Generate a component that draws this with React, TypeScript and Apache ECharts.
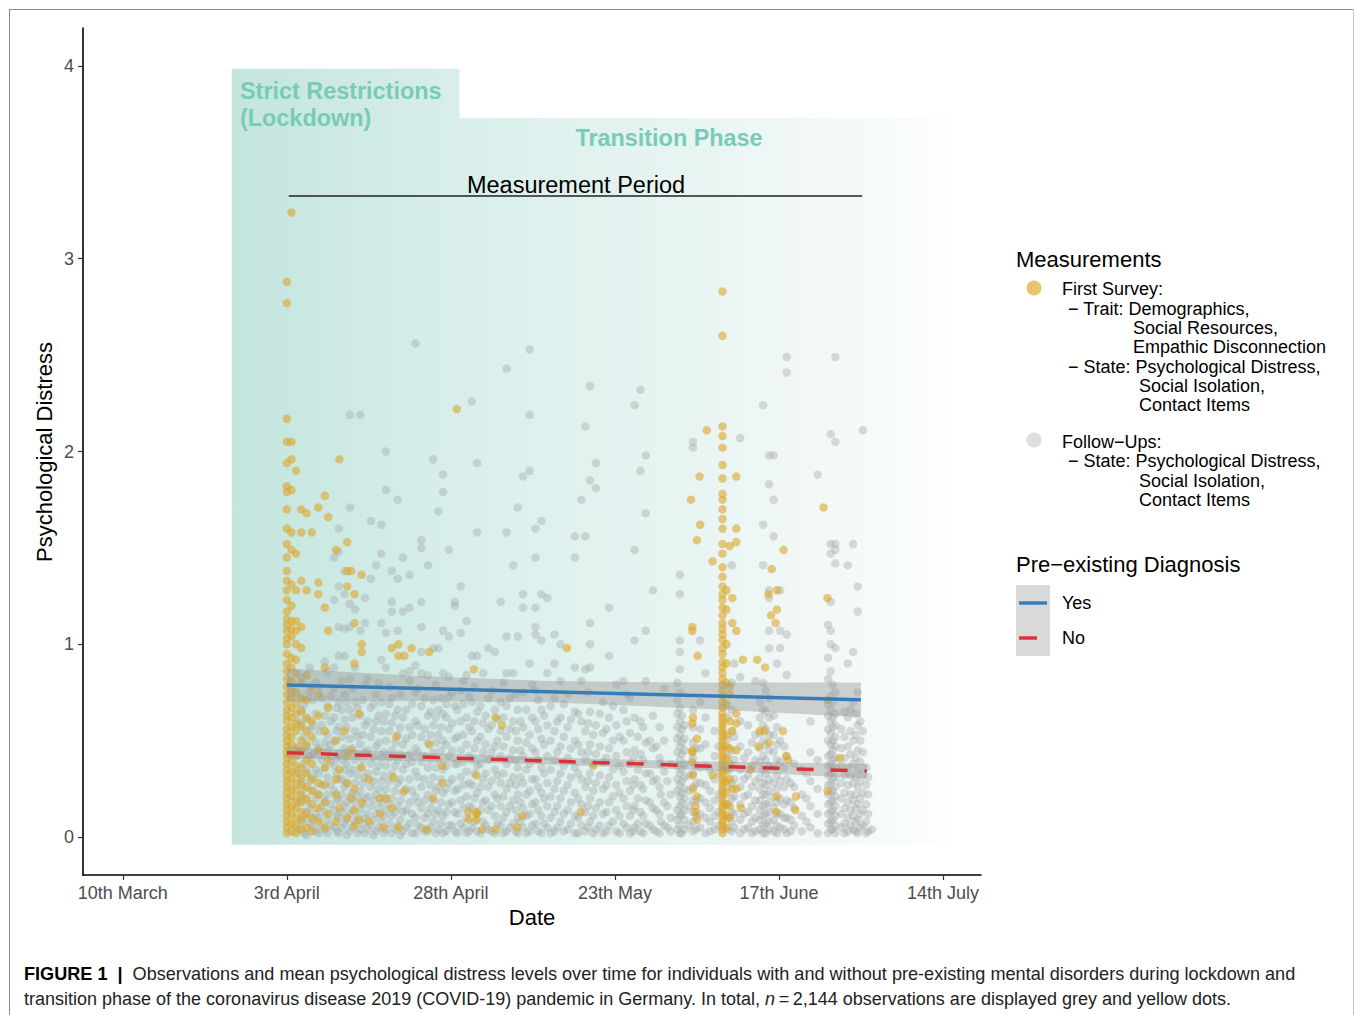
import React, { useEffect, useRef } from "react";
import * as echarts from "echarts";

const FONT = "'Liberation Sans', Arial, Helvetica, sans-serif";

// x axis: days counted from 10th March (tick every 25 days, labelled as in the figure)
const xTickValues = [0, 25, 50, 75, 100, 125];
const xTickLabels = ["10th March", "3rd April", "28th April", "23th May", "17th June", "14th July"];
const yTickValues = [0, 1, 2, 3, 4];
const yTickLabels = ["0", "1", "2", "3", "4"];

// First-survey observations (yellow): [day, distress values observed that day]
const yellowApril: [number, number[]][] = [
  [25.0, [0.02,0.05,0.08,0.11,0.14,0.17,0.2,0.23,0.26,0.29,0.32,0.35,0.38,0.41,0.44,0.47,0.5,0.53,0.56,0.6,0.63,0.66,0.7,0.74,0.78,0.82,0.86,0.9,0.95,1.0,1.03,1.07,1.1,1.13,1.17,1.23,1.28,1.33,1.38,1.45,1.52,1.6,1.7,1.79,1.82,1.94,2.05,2.17,2.77,2.88]],
  [25.7, [0.03,0.07,0.12,0.16,0.21,0.25,0.3,0.34,0.39,0.43,0.48,0.52,0.57,0.62,0.67,0.72,0.76,0.81,0.88,0.93,1.04,1.08,1.12,1.2,1.31,1.49,1.58,1.8,1.96,2.05,3.24]],
  [26.4, [0.02,0.06,0.1,0.15,0.19,0.24,0.28,0.33,0.37,0.42,0.46,0.55,0.59,0.64,0.69,0.75,0.85,0.92,1.0,1.07,1.12,1.28,1.47,1.9]],
  [27.2, [0.04,0.09,0.13,0.18,0.22,0.27,0.31,0.36,0.45,0.5,0.58,0.65,0.72,0.8,0.98,1.09,1.33,1.58,1.7]],
  [28.0, [0.05,0.12,0.2,0.26,0.33,0.4,0.48,0.55,0.62,0.71,0.84,1.28,1.68]],
  [28.8, [0.03,0.1,0.17,0.24,0.3,0.38,0.52,0.6,0.78,1.58]],
  [29.8, [0.08,0.15,0.22,0.28,0.45,0.63,0.74,1.26,1.32,1.71]],
  [30.8, [0.05,0.18,0.27,0.36,0.55,0.88,1.19,1.77]],
  [31.3, [0.12,0.4,0.67,1.07,1.66]],
  [32.5, [0.08,0.22,0.3,0.5,1.49]],
  [33.0, [0.15,0.35,1.96]],
  [33.8, [0.55]],
  [34.2, [0.1,0.28,0.42,1.3,1.38,1.53]],
  [34.8, [0.2,0.45,1.38]],
  [35.3, [0.06,0.14,0.25,0.9,1.11,1.26]],
  [36.0, [0.09,0.64]],
  [36.4, [0.18,0.36,0.96,1.0,1.36]],
  [37.5, [0.08,0.3]],
  [39.2, [0.12,0.2]],
  [39.7, [0.05]],
  [40.2, [0.2]],
  [41.0, [0.15,0.98]],
  [41.2, [0.31]],
  [41.7, [0.52]],
  [42.0, [0.05,0.94,1.0]],
  [42.9, [0.24,0.94]],
  [44.0, [0.98]],
  [46.3, [0.04]],
  [46.7, [0.48,0.96]],
  [47.3, [0.2]],
  [48.7, [0.28,0.37]],
  [50.9, [2.22]],
  [52.7, [0.09,0.13]],
  [53.5, [0.87]],
  [53.9, [0.09,0.12,0.13,0.32]],
  [54.8, [0.04]],
  [56.8, [0.04,0.62]],
  [57.8, [0.58]],
  [60.1, [0.05]],
  [60.9, [0.11]],
  [67.7, [0.98]],
  [69.8, [0.13]],
  [71.7, [0.37]],
];

const yellowJune: [number, number[]][] = [
  [86.6, [1.75]],
  [86.8, [0.39,0.44,0.45,0.59,1.07,1.09]],
  [86.9, [0.25,0.32,0.62]],
  [87.3, [0.13,0.16]],
  [87.5, [0.09,0.21,0.51,1.54]],
  [87.6, [0.94]],
  [87.9, [1.87]],
  [88.0, [1.62]],
  [89.0, [2.11]],
  [89.9, [0.32,1.43]],
  [91.4, [0.02,0.04,0.06,0.08,0.1,0.12,0.14,0.16,0.18,0.2,0.22,0.24,0.26,0.28,0.3,0.32,0.34,0.36,0.38,0.4,0.42,0.44,0.46,0.48,0.5,0.52,0.54,0.56,0.58,0.6,0.62,0.64,0.67,0.7,0.73,0.76,0.79,0.82,0.85,0.88,0.91,0.95,0.98,1.02,1.05,1.08,1.11,1.15,1.19,1.23,1.26,1.3,1.35,1.4,1.47,1.52,1.6,1.65,1.7,1.75,1.78,1.86,1.93,2.02,2.08,2.13,2.6,2.83]],
  [92.0, [0.05,0.11,0.17,0.23,0.29,0.35,0.41,0.47,0.53,0.69,0.8,0.9,1.0,1.18,1.28]],
  [92.5, [0.1,0.16,0.3,0.38,0.46,0.6,0.74,0.78,1.51]],
  [92.9, [0.25,0.55,1.11,1.24]],
  [93.5, [0.25,0.45,0.59,0.64,1.07,1.53,1.6,1.87]],
  [94.2, [0.15]],
  [94.5, [0.92]],
  [95.7, [0.35]],
  [96.7, [0.92]],
  [96.9, [0.47]],
  [97.1, [0.55]],
  [97.8, [0.55]],
  [97.9, [0.88]],
  [98.4, [1.26]],
  [98.5, [0.49]],
  [98.8, [1.15]],
  [98.9, [1.39]],
  [99.5, [1.11]],
  [99.6, [0.13]],
  [99.7, [0.21,1.18,1.28]],
  [100.6, [0.55]],
  [100.7, [1.49]],
  [101.1, [0.42]],
  [101.4, [0.4]],
  [102.5, [0.14]],
  [102.6, [0.21]],
  [106.8, [1.71]],
  [107.4, [0.24,0.71,1.24]],
  [109.3, [0.41]],
];

// Follow-up observations (grey)
const greyApril: [number, number[]][] = [
  [26.8, [0.04,0.18,0.33,0.47,0.6]],
  [27.6, [0.02,0.1,0.25,0.38,0.52,0.69]],
  [28.5, [0.07,0.15,0.29,0.42,0.56,0.75,0.88]],
  [29.4, [0.03,0.12,0.2,0.35,0.49,0.64,0.8]],
  [30.3, [0.06,0.16,0.27,0.4,0.58,0.72]],
  [31.2, [0.02,0.09,0.22,0.31,0.45,0.53,0.68,0.86]],
  [32.2, [0.05,0.14,0.24,0.37,0.5,0.62,0.77,0.88,1.23,1.45]],
  [32.9, [0.02,0.1,0.19,0.3,0.43,0.57,0.7,0.94,1.09,1.3,1.48,1.6]],
  [33.8, [0.07,0.16,0.26,0.35,0.46,0.61,0.74,0.94,1.08,1.26,1.38]],
  [34.6, [0.03,0.12,0.21,0.33,0.51,0.66,0.82,1.09,1.21,1.71,2.19]],
  [35.4, [0.08,0.18,0.28,0.4,0.55,0.7,0.88,1.18]],
  [36.2, [0.04,0.14,0.24,0.36,0.48,0.63,1.07,2.19]],
  [36.9, [0.02,0.1,0.2,0.31,0.44,0.58,0.79,1.11,1.24]],
  [37.8, [0.06,0.16,0.26,0.38,0.52,0.67,1.34,1.64]],
  [38.6, [0.03,0.12,0.22,0.34,0.47,0.6,0.74,1.41]],
  [39.4, [0.08,0.18,0.29,0.41,0.55,0.7,0.92,1.11,1.47,1.62]],
  [40.1, [0.04,0.14,0.25,0.37,0.5,0.64,0.88,1.06,1.8,2.0]],
  [41.0, [0.02,0.11,0.2,0.33,0.45,0.59,0.72,1.17,1.22,1.38]],
  [41.9, [0.06,0.16,0.28,0.4,0.53,0.66,1.07,1.34,1.75]],
  [42.7, [0.03,0.13,0.23,0.35,0.48,0.62,0.85,1.17,1.45]],
  [43.7, [0.07,0.18,0.3,0.43,0.57,0.81,0.86,1.19,1.36]],
  [44.6, [0.02,0.1,0.21,0.34,0.46,0.6,0.75,0.89,2.56]],
  [45.5, [0.05,0.15,0.26,0.39,0.52,0.68,0.85,0.96,1.09,1.22,1.5,1.54]],
  [46.5, [0.03,0.12,0.22,0.36,0.49,0.63,0.84,1.41]],
  [47.3, [0.08,0.19,0.31,0.44,0.58,0.71,0.98,1.96]],
  [48.1, [0.04,0.14,0.26,0.4,0.53,0.66,0.98,1.69]],
  [48.8, [0.02,0.11,0.23,0.35,0.5,0.64,0.85,1.07,1.79,1.88]],
  [49.7, [0.06,0.17,0.28,0.42,0.56,0.73,0.83,1.04,1.49]],
  [50.6, [0.03,0.13,0.24,0.38,0.51,0.68,1.2,1.22]],
];

const greyAprilB: [number, number[]][] = [
  [27.2, [0.08,0.21,0.29,0.44,0.57,0.66,0.83]],
  [28.0, [0.01,0.13,0.19,0.34,0.47,0.61]],
  [29.0, [0.05,0.09,0.24,0.31,0.43,0.58,0.71]],
  [29.9, [0.02,0.1,0.22,0.33,0.46,0.55,0.78]],
  [30.8, [0.04,0.13,0.19,0.36,0.49,0.63,0.91]],
  [31.7, [0.06,0.17,0.27,0.39,0.48,0.6,0.73]],
  [32.6, [0.03,0.11,0.2,0.33,0.41,0.55,0.67]],
  [33.4, [0.05,0.13,0.22,0.3,0.4,0.52,0.66,0.81]],
  [34.1, [0.01,0.09,0.18,0.28,0.38,0.44,0.57,0.7]],
  [35.0, [0.05,0.14,0.23,0.35,0.46,0.62,0.77]],
  [35.8, [0.02,0.1,0.21,0.32,0.43,0.52,0.67]],
  [36.6, [0.07,0.17,0.28,0.4,0.53,0.71]],
  [37.3, [0.04,0.12,0.21,0.33,0.45,0.6,0.82]],
  [38.2, [0.01,0.09,0.19,0.29,0.41,0.56,0.69]],
  [39.0, [0.05,0.15,0.25,0.37,0.49,0.63,0.8]],
  [39.8, [0.02,0.11,0.21,0.32,0.44,0.6]],
  [40.6, [0.07,0.17,0.29,0.41,0.55,0.69,0.78]],
  [41.5, [0.04,0.13,0.24,0.37,0.49,0.63]],
  [42.3, [0.01,0.09,0.19,0.3,0.43,0.57,0.74]],
  [43.2, [0.05,0.14,0.25,0.38,0.51,0.66]],
  [44.1, [0.02,0.12,0.24,0.39,0.53,0.69]],
  [45.0, [0.06,0.18,0.31,0.44,0.58,0.77]],
  [46.0, [0.03,0.1,0.19,0.3,0.42,0.56,0.72]],
  [46.9, [0.05,0.15,0.27,0.4,0.53,0.65]],
  [47.7, [0.02,0.12,0.24,0.36,0.49,0.62,0.79]],
  [48.5, [0.07,0.18,0.3,0.45,0.57,0.72]],
  [49.3, [0.03,0.13,0.25,0.37,0.48,0.62,0.69]],
  [50.2, [0.06,0.18,0.3,0.45,0.59,0.75]],
];

const greyMay: [number, number[]][] = [
  [51.5, [0.07,0.19,0.31,0.45,0.6,0.76,1.06,1.3]],
  [52.4, [0.02,0.1,0.21,0.34,0.48,0.62,0.84,1.12]],
  [53.2, [0.05,0.15,0.27,0.4,0.55,0.7,0.94,2.26]],
  [54.0, [0.03,0.12,0.23,0.37,0.5,0.65,0.94,1.58,1.94]],
  [54.9, [0.08,0.18,0.3,0.44,0.59,0.85]],
  [55.7, [0.04,0.14,0.26,0.4,0.56,0.72,0.98]],
  [56.7, [0.02,0.11,0.22,0.35,0.47,0.66,0.96]],
  [57.6, [0.06,0.16,0.28,0.42,0.55,0.7,1.22]],
  [58.5, [0.03,0.13,0.25,0.38,0.52,0.68,0.85,1.04,1.58,2.43]],
  [59.5, [0.07,0.19,0.31,0.45,0.6,0.85,1.41]],
  [60.2, [0.02,0.1,0.22,0.36,0.5,0.66,1.04,1.71]],
  [61.0, [0.05,0.15,0.28,0.42,0.57,0.75,1.19,1.26,1.87]],
  [62.0, [0.03,0.12,0.24,0.38,0.53,0.9,1.9,2.19,2.53]],
  [62.9, [0.07,0.18,0.3,0.44,0.6,0.76,1.05,1.09,1.19,1.45,1.6]],
  [63.8, [0.02,0.11,0.23,0.36,0.51,0.66,1.02,1.26,1.64]],
  [64.7, [0.05,0.16,0.28,0.42,0.58,0.85,1.24]],
  [65.8, [0.03,0.13,0.25,0.4,0.55,0.72,0.9,1.05]],
  [66.7, [0.08,0.2,0.33,0.47,0.62,0.81,1.0]],
  [67.8, [0.04,0.14,0.27,0.41,0.57,0.74]],
  [68.9, [0.02,0.11,0.23,0.36,0.5,0.65,0.88,1.45,1.56]],
  [69.9, [0.06,0.17,0.3,0.44,0.6,0.81,1.75]],
  [70.5, [0.03,0.13,0.26,0.4,0.55,0.87,1.56,2.13]],
  [71.2, [0.08,0.2,0.33,0.48,0.65,0.88,1.0,1.11,1.85,2.34]],
  [72.1, [0.04,0.15,0.28,0.43,0.58,1.81,1.94]],
  [73.2, [0.02,0.12,0.25,0.39,0.54,0.7]],
  [74.1, [0.06,0.18,0.31,0.46,0.62,0.94,1.19]],
  [75.2, [0.03,0.14,0.27,0.42,0.58,0.79]],
  [76.3, [0.07,0.2,0.34,0.5,0.66,0.81]],
  [77.3, [0.02,0.11,0.24,0.38,0.54,0.72]],
  [78.0, [0.05,0.16,0.3,0.45,0.62,1.02,1.49,2.24]],
  [78.9, [0.03,0.13,0.27,0.43,0.6,1.9,2.32]],
  [79.7, [0.07,0.19,0.33,0.49,0.81,1.07,1.68,1.98]],
  [80.8, [0.04,0.15,0.29,0.46,0.63,1.28]],
  [81.8, [0.02,0.12,0.26,0.41,0.57]],
  [82.5, [0.06,0.18,0.34,0.5,0.77]],
  [83.5, [0.03,0.1,0.22,0.38]],
];

const greyMayB: [number, number[]][] = [
  [51.0, [0.02,0.12,0.25,0.38,0.52,0.66]],
  [51.9, [0.05,0.15,0.27,0.39,0.53,0.69,0.81]],
  [52.8, [0.03,0.16,0.28,0.42,0.57,0.73]],
  [53.6, [0.08,0.2,0.33,0.46,0.6,0.78]],
  [54.5, [0.02,0.14,0.26,0.38,0.52,0.68]],
  [55.3, [0.06,0.19,0.33,0.48,0.63]],
  [56.2, [0.03,0.16,0.29,0.44,0.58,0.76]],
  [57.1, [0.07,0.2,0.32,0.5,0.61]],
  [58.0, [0.02,0.1,0.21,0.33,0.47,0.62,0.8]],
  [59.0, [0.05,0.16,0.28,0.41,0.56,0.72]],
  [59.9, [0.03,0.14,0.27,0.4,0.55,0.74]],
  [60.6, [0.08,0.18,0.31,0.45,0.6]],
  [61.5, [0.02,0.11,0.22,0.35,0.49,0.66]],
  [62.4, [0.06,0.17,0.3,0.46,0.62,0.79]],
  [63.3, [0.03,0.14,0.26,0.4,0.56,0.71]],
  [64.2, [0.07,0.2,0.33,0.48,0.63]],
  [65.2, [0.02,0.1,0.21,0.35,0.5,0.68]],
  [66.2, [0.05,0.16,0.29,0.44,0.6]],
  [67.2, [0.03,0.12,0.24,0.37,0.52,0.69]],
  [68.3, [0.07,0.18,0.31,0.46,0.61]],
  [69.4, [0.02,0.1,0.2,0.33,0.48,0.64]],
  [70.9, [0.05,0.16,0.29,0.44,0.59,0.75]],
  [71.7, [0.02,0.11,0.24,0.38,0.53]],
  [72.7, [0.06,0.18,0.32,0.47,0.64]],
  [73.7, [0.03,0.13,0.27,0.41,0.56]],
  [74.7, [0.08,0.21,0.35,0.5,0.68]],
  [75.7, [0.02,0.11,0.23,0.37,0.52]],
  [76.8, [0.05,0.16,0.29,0.44,0.6,0.74]],
  [77.8, [0.03,0.14,0.27,0.41]],
  [78.5, [0.07,0.2,0.35,0.52]],
  [79.3, [0.02,0.11,0.25,0.4,0.57]],
  [80.3, [0.06,0.18,0.33,0.5]],
  [81.3, [0.03,0.14,0.3,0.47]],
  [82.0, [0.08,0.22,0.38]],
  [83.0, [0.05,0.16,0.29]],
];

const greyJune: [number, number[]][] = [
  [84.9, [0.02,0.06,0.11,0.16,0.21,0.27,0.33,0.4,0.47,0.53,0.6,0.67,0.75,0.87,0.96,1.02,1.26,1.36]],
  [85.6, [0.04,0.09,0.14,0.2,0.25,0.31,0.38,0.45,0.51,0.58]],
  [86.9, [0.03,0.08,0.13,0.19,0.26,0.33,0.41,0.49,0.57,0.66,2.02,2.05]],
  [88.0, [0.05,0.12,0.2,0.28,0.36,0.46,0.56,0.7,1.02]],
  [88.8, [0.02,0.1,0.18,0.27,0.37,0.48,0.62,0.85]],
  [90.2, [0.04,0.11,0.19,0.3,0.42,0.55]],
  [92.8, [0.03,0.08,0.13,0.2,0.28,0.36,0.45,0.55,0.66,0.8,1.41]],
  [93.2, [0.05,0.12,0.21,0.3,0.4,0.52,0.9]],
  [94.1, [0.02,0.09,0.17,0.26,0.35,0.47,0.6,0.83,2.07]],
  [95.3, [0.05,0.13,0.22,0.32,0.44,0.58]],
  [96.4, [0.03,0.1,0.19,0.29,0.4,0.53,0.81]],
  [97.6, [0.02,0.06,0.11,0.16,0.22,0.28,0.35,0.42,0.5,0.58,0.66,0.8,1.41,1.62,2.24]],
  [98.5, [0.04,0.08,0.13,0.18,0.24,0.3,0.37,0.45,0.53,0.62,0.72,0.98,1.07,1.24,1.28,1.83,1.98]],
  [99.2, [0.03,0.09,0.15,0.21,0.28,0.36,0.44,0.53,0.63,1.56,1.75,1.98]],
  [100.2, [0.05,0.12,0.2,0.29,0.39,0.5,0.98,1.07,1.28]],
  [101.2, [0.02,0.1,0.19,0.3,0.42,0.84,1.05,2.41,2.49]],
  [102.3, [0.06,0.15,0.26,0.38]],
  [103.5, [0.03,0.11,0.22,0.35]],
  [104.8, [0.05,0.16,0.29,0.44,0.6]],
  [105.9, [0.02,0.12,0.25,0.4,1.88]],
  [107.9, [0.04,0.08,0.13,0.18,0.23,0.28,0.33,0.38,0.43,0.48,0.54,0.6,0.66,0.73,0.86,1.0,1.07,1.22,1.47,1.52,2.09]],
  [108.6, [0.02,0.06,0.11,0.16,0.21,0.26,0.31,0.36,0.41,0.47,0.52,0.58,0.64,0.75,0.98,1.42,1.49,1.52,2.05,2.49]],
  [109.5, [0.05,0.12,0.2,0.28,0.37,0.46,0.56]],
  [110.5, [0.03,0.1,0.18,0.27,0.36,0.47,0.62,0.9,1.41]],
  [111.3, [0.04,0.11,0.19,0.28,0.38,0.5,0.7,0.96,1.52]],
  [112.0, [0.02,0.09,0.17,0.26,0.35,0.45,0.58,0.75,1.17,1.3]],
  [112.8, [0.06,0.14,0.23,0.33,0.44,0.55,2.11]],
  [113.6, [0.03,0.12,0.22,0.31]],
  [114.2, [0.04]],
];

const greyJuneB: [number, number[]][] = [
  [84.5, [0.04,0.09,0.14,0.24,0.3,0.37,0.44,0.51,0.57,0.64,0.71,0.8]],
  [85.2, [0.02,0.12,0.18,0.23,0.29,0.35,0.43,0.49,0.56,0.63]],
  [86.3, [0.06,0.16,0.24,0.32]],
  [87.4, [0.04,0.11,0.19,0.28,0.37,0.46]],
  [89.5, [0.03,0.08,0.15,0.24,0.35]],
  [90.8, [0.06,0.13,0.22,0.33,0.47]],
  [92.2, [0.04,0.1,0.17,0.26,0.34,0.42,0.51,0.62]],
  [94.7, [0.04,0.12,0.21,0.3,0.41]],
  [95.9, [0.02,0.08,0.16,0.26,0.37,0.49]],
  [97.1, [0.04,0.09,0.14,0.19,0.25,0.31,0.39,0.46,0.54,0.62,0.7]],
  [98.0, [0.02,0.07,0.12,0.17,0.22,0.27,0.33,0.4,0.48,0.56,0.65,0.76]],
  [99.7, [0.02,0.06,0.12,0.18,0.25,0.32,0.4,0.48,0.57,0.9]],
  [100.8, [0.04,0.1,0.17,0.26,0.36,0.47]],
  [101.8, [0.03,0.09,0.18,0.28]],
  [104.2, [0.08,0.2,0.33]],
  [107.5, [0.02,0.07,0.12,0.17,0.22,0.27,0.32,0.37,0.42,0.5,0.56,0.63,0.69,0.82,0.93,1.1]],
  [108.2, [0.04,0.09,0.14,0.19,0.24,0.3,0.35,0.4,0.45,0.5,0.57,0.62,0.7,0.79]],
  [110.0, [0.02,0.07,0.15,0.23,0.32,0.41,0.52,0.65]],
  [110.9, [0.06,0.14,0.22,0.32,0.43,0.55,0.66]],
  [111.7, [0.03,0.08,0.15,0.22,0.31,0.41,0.53,0.64]],
  [112.4, [0.05,0.12,0.2,0.29,0.39,0.5,0.6]],
  [113.3, [0.02,0.08,0.17,0.27,0.36]],
];

// Linear trends with confidence bands: [day, lower, upper]
const yesLine: [number, number][] = [[25, 0.789], [112.5, 0.712]];
const yesBand: [number, number, number][] = [
  [25, 0.704, 0.874], [45, 0.706, 0.836], [65, 0.699, 0.809],
  [85, 0.671, 0.801], [100, 0.645, 0.801], [112.5, 0.622, 0.802],
];
const noLine: [number, number][] = [[25, 0.437], [113.4, 0.342]];
const noBand: [number, number, number][] = [
  [25, 0.407, 0.467], [45, 0.394, 0.438], [65, 0.376, 0.412],
  [85, 0.351, 0.395], [100, 0.327, 0.387], [113.4, 0.304, 0.38],
];

// Annotation regions (day / distress units)
const lockdownBox = { x0: 16.6, x1: 51.3, y0: 3.73, y1: 3.985 };
const phaseBox = { x0: 16.6, x1: 129.2, y0: -0.04, y1: 3.73 };
const measurementLine: [number, number][] = [[25.3, 3.326], [112.7, 3.326]];

const toPoints = (cols: [number, number[]][]) =>
  cols.flatMap(([d, vs]) => vs.map((v) => [d, v]));

const bandSeries = (name: string, band: [number, number, number][]) => ({
  type: "custom",
  name,
  z: 5,
  silent: true,
  data: band,
  renderItem: (params: any, api: any) => {
    if (params.dataIndex !== 0) return null;
    const upper = band.map((b) => api.coord([b[0], b[2]]));
    const lower = band.map((b) => api.coord([b[0], b[1]])).reverse();
    return {
      type: "polygon",
      shape: { points: upper.concat(lower) },
      style: { fill: "rgba(150,150,150,0.42)" },
    };
  },
});

export default function App() {
  const ref = useRef<HTMLDivElement>(null);

  useEffect(() => {
    if (!ref.current) return;
    const chart = echarts.init(ref.current, undefined, { renderer: "svg" });

    const txt = (text: string, x: number, y: number, opts: any = {}) => ({
      type: "text",
      x,
      y,
      z: 100,
      rotation: opts.rotation || 0,
      silent: true,
      style: {
        text,
        fill: opts.fill || "#000",
        fontSize: opts.fontSize || 18,
        fontFamily: FONT,
        fontWeight: opts.fontWeight || "normal",
        align: opts.align || "left",
        verticalAlign: "middle",
        rich: opts.rich,
      },
    });

    const bodyGradient = new echarts.graphic.LinearGradient(0, 0, 1, 0, [
      { offset: 0, color: "#c4e5de" },
      { offset: 0.3, color: "#d8eeea" },
      { offset: 0.6, color: "#e7f4f2" },
      { offset: 0.85, color: "#f5faf9" },
      { offset: 1, color: "#ffffff" },
    ]);
    const lockGradient = new echarts.graphic.LinearGradient(0, 0, 1, 0, [
      { offset: 0, color: "#c4e5de" },
      { offset: 1, color: "#d8eeea" },
    ]);

    const option: any = {
      animation: false,
      backgroundColor: "#ffffff",
      grid: { left: 83, right: 374, top: 28, bottom: 140, containLabel: false },
      xAxis: {
        type: "value",
        min: -6.07,
        max: 130.8,
        splitLine: { show: false },
        axisLine: { show: true, onZero: false, lineStyle: { color: "#000", width: 1.6 } },
        axisTick: { show: true, length: 5, customValues: xTickValues, lineStyle: { color: "#333", width: 1.2 } },
        axisLabel: {
          customValues: xTickValues,
          formatter: (v: number) => xTickLabels[xTickValues.indexOf(v)] ?? "",
          fontSize: 18,
          color: "#4d4d4d",
          fontFamily: FONT,
          margin: 9,
        },
      },
      yAxis: {
        type: "value",
        min: -0.197,
        max: 4.197,
        splitLine: { show: false },
        axisLine: { show: true, onZero: false, lineStyle: { color: "#000", width: 1.6 } },
        axisTick: { show: true, length: 5, customValues: yTickValues, lineStyle: { color: "#333", width: 1.2 } },
        axisLabel: {
          customValues: yTickValues,
          formatter: (v: number) => yTickLabels[yTickValues.indexOf(v)] ?? "",
          fontSize: 18,
          color: "#4d4d4d",
          fontFamily: FONT,
          margin: 9,
        },
      },
      series: [
        {
          type: "line",
          name: "phases",
          z: 0,
          data: [],
          silent: true,
          markArea: {
            silent: true,
            label: { show: false },
            data: [
              [
                { coord: [phaseBox.x0, phaseBox.y1], itemStyle: { color: bodyGradient, opacity: 1 } },
                { coord: [phaseBox.x1, phaseBox.y0] },
              ],
              [
                { coord: [lockdownBox.x0, lockdownBox.y1], itemStyle: { color: lockGradient, opacity: 1 } },
                { coord: [lockdownBox.x1, lockdownBox.y0] },
              ],
            ],
          },
        },
        {
          type: "line",
          name: "Measurement Period",
          z: 3,
          silent: true,
          showSymbol: false,
          data: measurementLine,
          lineStyle: { color: "#222", width: 1.5 },
        },
        {
          type: "scatter",
          name: "Follow-Ups",
          z: 3,
          silent: true,
          symbolSize: 8.5,
          data: toPoints([...greyApril, ...greyAprilB, ...greyMay, ...greyMayB, ...greyJune, ...greyJuneB]),
          itemStyle: { color: "#a2a8a8", opacity: 0.4 },
        },
        {
          type: "scatter",
          name: "First Survey",
          z: 4,
          silent: true,
          symbolSize: 8.5,
          data: toPoints([...yellowApril, ...yellowJune]),
          itemStyle: { color: "#dca62a", opacity: 0.6 },
        },
        bandSeries("Yes band", yesBand),
        bandSeries("No band", noBand),
        {
          type: "line",
          name: "Yes",
          z: 6,
          silent: true,
          showSymbol: false,
          data: yesLine,
          lineStyle: { color: "#377eb8", width: 3.5 },
        },
        {
          type: "line",
          name: "No",
          z: 6,
          silent: true,
          showSymbol: false,
          data: noLine,
          lineStyle: { color: "#dc3236", width: 3.5, type: [17, 17] },
        },
      ],
      graphic: [
        // frame
        { type: "line", z: 100, silent: true, shape: { x1: 9, y1: 9.5, x2: 1354, y2: 9.5 }, style: { stroke: "#8c8c8c", lineWidth: 1 } },
        { type: "line", z: 100, silent: true, shape: { x1: 9.5, y1: 9, x2: 9.5, y2: 1015 }, style: { stroke: "#8c8c8c", lineWidth: 1 } },
        { type: "line", z: 100, silent: true, shape: { x1: 1353.5, y1: 9, x2: 1353.5, y2: 1015 }, style: { stroke: "#c8c8c8", lineWidth: 1 } },
        // phase labels
        txt("Strict Restrictions", 240, 91, { fill: "#78ccb7", fontSize: 23.4, fontWeight: "bold" }),
        txt("(Lockdown)", 240, 118, { fill: "#78ccb7", fontSize: 23.4, fontWeight: "bold" }),
        txt("Transition Phase", 669, 138, { fill: "#78ccb7", fontSize: 23.4, fontWeight: "bold", align: "center" }),
        txt("Measurement Period", 576, 185, { fontSize: 23.5, align: "center" }),
        // axis titles
        txt("Date", 532, 917, { fontSize: 22, align: "center" }),
        txt("Psychological Distress", 44, 452, { fontSize: 22, align: "center", rotation: Math.PI / 2 }),
        // legend: measurements
        txt("Measurements", 1016, 259, { fontSize: 22 }),
        { type: "circle", z: 100, silent: true, shape: { cx: 1034, cy: 288, r: 7.5 }, style: { fill: "#e8c46e" } },
        txt("First Survey:", 1062, 289),
        txt("\u2212 Trait: Demographics,", 1068, 309),
        txt("Social Resources,", 1133, 328),
        txt("Empathic Disconnection", 1133, 347),
        txt("\u2212 State: Psychological Distress,", 1068, 367),
        txt("Social Isolation,", 1139, 386),
        txt("Contact Items", 1139, 405),
        { type: "circle", z: 100, silent: true, shape: { cx: 1034, cy: 440, r: 7.5 }, style: { fill: "#dedede" } },
        txt("Follow\u2212Ups:", 1062, 442),
        txt("\u2212 State: Psychological Distress,", 1068, 461),
        txt("Social Isolation,", 1139, 481),
        txt("Contact Items", 1139, 500),
        // legend: diagnosis
        txt("Pre\u2212existing Diagnosis", 1016, 564, { fontSize: 22 }),
        { type: "rect", z: 100, silent: true, shape: { x: 1016, y: 585, width: 34, height: 71 }, style: { fill: "#d9d9d9" } },
        { type: "line", z: 101, silent: true, shape: { x1: 1019, y1: 603, x2: 1047, y2: 603 }, style: { stroke: "#377eb8", lineWidth: 3.5 } },
        { type: "line", z: 101, silent: true, shape: { x1: 1019, y1: 638, x2: 1037, y2: 638 }, style: { stroke: "#dc3236", lineWidth: 3.5 } },
        txt("Yes", 1062, 603),
        txt("No", 1062, 638),
        // caption
        txt(
          "{b|FIGURE 1  |  }Observations and mean psychological distress levels over time for individuals with and without pre-existing mental disorders during lockdown and",
          24,
          974,
          {
            fontSize: 18.1,
            fill: "#222",
            rich: { b: { fontWeight: "bold", fontSize: 18.1, fontFamily: FONT, fill: "#000" } },
          }
        ),
        txt(
          "transition phase of the coronavirus disease 2019 (COVID-19) pandemic in Germany. In total, {i|n}\u2009=\u20092,144 observations are displayed grey and yellow dots.",
          24,
          999,
          {
            fontSize: 18,
            fill: "#222",
            rich: { i: { fontStyle: "italic", fontSize: 18, fontFamily: FONT, fill: "#222" } },
          }
        ),
      ],
    };

    chart.setOption(option);
    return () => chart.dispose();
  }, []);

  return (
    <div
      ref={ref}
      style={{ position: "absolute", left: 0, top: 0, width: 1355, height: 1015, background: "#fff" }}
    />
  );
}
